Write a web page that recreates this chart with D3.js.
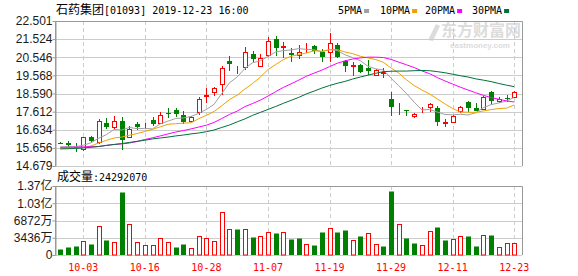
<!DOCTYPE html>
<html>
<head>
<meta charset="utf-8">
<script src="https://cdn.jsdelivr.net/npm/d3@7"></script>
<style>
body{margin:0;background:#fff}
text{font-family:"Liberation Sans","Noto Sans CJK SC",sans-serif}
.mono{font-family:"DejaVu Sans Mono","Noto Sans CJK SC",monospace}
</style>
</head>
<body>
<svg id="chart" width="578" height="276"></svg>
<script>
// trading days shown
const dates = ["09-27","09-30","10-02","10-03","10-04","10-08","10-09","10-10","10-11","10-14",
  "10-15","10-16","10-17","10-18","10-21","10-22","10-23","10-24","10-25","10-28",
  "10-29","10-30","10-31","11-01","11-04","11-05","11-06","11-07","11-08","11-11",
  "11-12","11-13","11-14","11-15","11-18","11-19","11-20","11-21","11-22","11-25",
  "11-26","11-27","11-28","11-29","12-02","12-03","12-04","12-05","12-06","12-09",
  "12-10","12-11","12-12","12-13","12-16","12-17","12-18","12-19","12-20","12-23"];
const xTickLabels = ["10-03","10-16","10-28","11-07","11-19","11-29","12-11","12-23"];

const open = [15.92,15.94,15.72,15.57,16.26,15.95,17.00,16.76,17.11,16.27,16.94,16.87,17.14,16.98,17.54,17.70,17.41,17.12,17.61,18.43,
  18.66,19.10,20.34,19.80,20.00,20.72,20.07,20.64,21.53,21.10,20.76,20.67,21.18,21.15,20.84,20.85,21.21,20.36,20.09,20.13,
  19.95,19.59,19.68,18.28,17.73,17.71,17.35,17.69,17.88,17.81,17.00,17.05,17.66,18.13,17.82,17.73,18.67,18.16,18.33,18.39];
const close = [15.88,15.81,15.70,16.22,16.04,17.11,16.78,17.11,16.08,16.70,16.77,16.89,16.94,17.43,17.46,17.47,17.07,17.31,18.28,18.51,
  18.87,19.99,20.18,19.83,20.81,20.45,20.48,21.40,21.02,21.14,20.67,20.83,21.21,20.90,20.58,21.30,20.58,20.06,20.11,19.77,
  19.78,19.86,19.77,17.88,17.76,17.69,17.48,17.71,18.02,17.07,17.03,17.38,17.85,17.83,17.66,18.42,18.21,18.29,18.30,18.69];
const high = [15.97,16.04,15.92,16.27,16.32,17.19,17.27,17.35,17.32,16.81,17.03,17.02,17.30,17.59,17.79,17.81,17.66,17.38,18.42,18.87,
  18.94,20.05,20.61,20.05,21.08,20.90,20.72,21.65,21.71,21.35,21.03,21.21,21.32,21.21,20.97,21.84,21.30,20.40,20.29,20.16,
  20.40,19.91,19.97,18.69,18.08,17.71,17.55,17.85,18.09,17.92,17.20,17.43,17.92,18.20,18.06,18.46,18.75,18.40,18.51,18.75];
const low = [15.84,15.72,15.45,15.49,15.92,15.89,16.68,16.62,15.54,16.19,16.62,16.71,16.81,16.92,17.27,17.30,16.94,17.07,17.43,18.06,
  18.43,18.51,19.82,19.62,19.84,20.27,20.02,20.54,20.63,20.50,20.30,20.44,20.75,20.72,20.31,20.31,20.49,19.77,19.55,19.68,
  19.59,19.54,19.41,17.40,17.43,17.38,17.28,17.54,17.61,16.84,16.77,17.03,17.52,17.61,17.65,17.68,17.97,18.09,18.15,18.35];

const volume = [12000000,15900000,17900000,27900000,21900000,57800000,29900000,25900000,125500000,61700000,
  25900000,19300000,19300000,33200000,25900000,15900000,21900000,13900000,37200000,33200000,
  27900000,85000000,51100000,51800000,51100000,35900000,37200000,45200000,43800000,45200000,
  31900000,33200000,21300000,19900000,45800000,53100000,45800000,49800000,29900000,37800000,
  43800000,21900000,17900000,127500000,61700000,33900000,23900000,19300000,47800000,55800000,
  29900000,31900000,37800000,37800000,17900000,39800000,39800000,15900000,23900000,24292070];
// 1 = red (up on the day), 0 = green
const volUp = [0,0,0,1,0,1,0,1,0,1,1,1,1,1,1,0,0,1,1,1,1,1,1,0,1,0,1,1,0,1,
  0,0,1,0,0,1,0,0,1,0,1,1,0,0,1,0,0,1,1,0,0,1,1,0,0,1,0,1,1,1];

const ma5 = [15.70,15.72,15.72,15.80,15.93,16.18,16.37,16.65,16.62,16.76,16.69,16.71,16.68,16.95,17.10,17.24,17.27,17.35,17.52,17.73,
  18.01,18.59,19.17,19.48,19.94,20.25,20.35,20.59,20.83,20.90,20.94,21.01,20.97,20.95,20.84,20.96,20.91,20.68,20.53,20.36,
  20.06,19.92,19.86,19.41,19.01,18.59,18.12,17.70,17.73,17.59,17.46,17.44,17.47,17.43,17.55,17.83,17.99,18.08,18.18,18.38];
const ma10 = [15.65,15.65,15.66,15.68,15.76,15.92,16.06,16.19,16.24,16.34,16.43,16.54,16.66,16.79,16.93,16.96,16.99,17.01,17.23,17.41,
  17.62,17.93,18.26,18.50,18.83,19.13,19.47,19.88,20.15,20.42,20.60,20.68,20.78,20.89,20.87,20.95,20.96,20.83,20.74,20.60,
  20.51,20.42,20.27,19.97,19.69,19.33,19.02,18.78,18.57,18.30,18.03,17.78,17.59,17.58,17.57,17.65,17.72,17.78,17.80,17.97];
const ma20 = [15.69,15.69,15.70,15.71,15.72,15.73,15.79,15.84,15.87,15.92,16.00,16.11,16.20,16.30,16.41,16.51,16.59,16.68,16.78,16.88,
  17.03,17.24,17.46,17.64,17.88,18.05,18.23,18.45,18.69,18.92,19.11,19.31,19.52,19.69,19.85,20.04,20.22,20.35,20.45,20.51,
  20.55,20.55,20.53,20.43,20.28,20.14,19.99,19.81,19.66,19.45,19.27,19.10,18.93,18.78,18.63,18.49,18.37,18.28,18.19,18.13];
const ma30 = [15.60,15.61,15.63,15.65,15.69,15.73,15.79,15.84,15.89,15.95,16.01,16.07,16.14,16.19,16.24,16.30,16.35,16.41,16.46,16.53,
  16.62,16.76,16.89,17.06,17.22,17.41,17.57,17.73,17.89,18.06,18.22,18.38,18.57,18.72,18.88,19.02,19.14,19.24,19.37,19.48,
  19.58,19.68,19.77,19.79,19.80,19.80,19.82,19.83,19.82,19.77,19.71,19.63,19.55,19.48,19.38,19.31,19.23,19.13,19.04,18.96];

const priceTicks = [22.501,21.524,20.546,19.568,18.590,17.612,16.634,15.656,14.679];
const volTicks = [0,34360000,68720000,103080000,137440000];
const volTickLabels = ["0","3436万","6872万","1.03亿","1.37亿"];

const maNames = ["5PMA","10PMA","20PMA","30PMA"];
const maColors = ["#a0a0a0","#f2a100","#ff00ff","#00703c"];
const RED = "#ff0000", GREEN = "#008000";

const svg = d3.select("#chart");
const left = 55, right = 522, pTop = 21, pBot = 166, vTop = 186, vBot = 255;
const c = v => Math.round(v) + 0.5;

let x = d3.scaleLinear().domain([0, dates.length - 1]).range([60.2, 514.2]);
let y = d3.scaleLinear().domain([14.679, 22.501]).range([pBot, pTop]);
let yv = d3.scaleLinear().domain([0, 137440000]).range([vBot, vTop]);

// title + legend
svg.append("text").attr("class","mono").attr("x",56).attr("y",14).attr("font-size",10)
  .attr("fill","#000")
  .html('<tspan font-size="12" font-family="Noto Sans CJK SC">石药集团</tspan>[01093] 2019-12-23 16:00');

let lx = [338, 380, 425, 472];
maNames.forEach((n, i) => {
  svg.append("text").attr("class","mono").attr("x",lx[i]).attr("y",14).attr("font-size",10)
    .attr("fill","#000").text(n);
  let w = n.length * 6.02;
  svg.append("rect").attr("x",lx[i]+w+2).attr("y",9).attr("width",5).attr("height",4).attr("fill",maColors[i]);
});

// watermark
let wm = svg.append("g").attr("fill","#dcdcdc");
wm.append("text").attr("x",441).attr("y",36).attr("font-size",16).attr("font-weight","bold")
  .attr("font-family","Noto Sans CJK SC").text("东方财富网");
wm.append("text").attr("x",450).attr("y",48).attr("font-size",8).attr("font-weight","bold").text("eastmoney.com");
wm.append("path").attr("d","M428,40 L436,24 L440,26 L433,41 Z");

// panels: grid
function panel(top, bot, scale, ticks) {
  let g = svg.append("g");
  g.selectAll(".h").data(ticks).enter().append("line")
    .attr("x1", left).attr("x2", right)
    .attr("y1", d => c(scale(d))).attr("y2", d => c(scale(d)))
    .attr("stroke", "#cccccc");
  g.selectAll(".v").data(xTickLabels).enter().append("line")
    .attr("x1", d => c(x(dates.indexOf(d)))).attr("x2", d => c(x(dates.indexOf(d))))
    .attr("y1", top).attr("y2", bot)
    .attr("stroke", "#cccccc").attr("stroke-dasharray", "4,3");
  g.append("path").attr("d", `M${left+0.5},${bot}V${top+0.5}H${right+0.5}V${bot}`)
    .attr("fill", "none").attr("stroke", "#999999");
  return g;
}
panel(pTop, pBot, y, priceTicks);
panel(vTop, vBot, yv, volTicks);

// y axes
let ya = svg.append("g").attr("transform", `translate(${left+0.5},0)`)
  .call(d3.axisLeft(y).tickValues(priceTicks).tickFormat(d3.format(".3f")).tickSize(3).tickSizeOuter(0));
let yva = svg.append("g").attr("transform", `translate(${left+0.5},0)`)
  .call(d3.axisLeft(yv).tickValues(volTicks).tickFormat((d,i) => volTickLabels[i]).tickSize(3).tickSizeOuter(0));
[ya, yva].forEach(a => {
  a.select(".domain").attr("stroke", "#999999");
  a.selectAll(".tick line").attr("stroke", "#999999");
  a.selectAll(".tick text").attr("font-size", 12).attr("fill", "#1a1a1a").attr("x", -3)
    .attr("font-family", '"Liberation Sans","Noto Sans CJK SC",sans-serif');
});

// x labels
svg.selectAll(".xl").data(xTickLabels).enter().append("text").attr("class","mono")
  .attr("x", d => x(dates.indexOf(d))).attr("y", 271).attr("text-anchor","middle")
  .attr("font-size", 10).attr("fill", RED).text(d => d);

// candles
let candles = dates.map((d, i) => ({i, o: open[i], c: close[i], h: high[i], l: low[i]}));
let cg = svg.append("g");
cg.selectAll("line.wick").data(candles).enter().append("line")
  .attr("x1", d => c(x(d.i))).attr("x2", d => c(x(d.i)))
  .attr("y1", d => Math.round(y(d.h))).attr("y2", d => Math.round(y(d.l)))
  .attr("stroke", d => d.c >= d.o ? RED : GREEN);
cg.selectAll("rect.body").data(candles).enter().append("rect")
  .attr("x", d => Math.round(x(d.i)) - 2 + (d.c >= d.o ? 0.5 : 0))
  .attr("y", d => {
    let t = Math.round(y(Math.max(d.o, d.c)));
    return d.c >= d.o ? t + 0.5 : t;
  })
  .attr("width", d => d.c >= d.o ? 4 : 5)
  .attr("height", d => {
    let hgt = Math.round(y(Math.min(d.o, d.c))) - Math.round(y(Math.max(d.o, d.c)));
    return d.c >= d.o ? Math.max(hgt, 0) : Math.max(hgt, 1);
  })
  .attr("fill", d => d.c >= d.o ? "#fff" : GREEN)
  .attr("stroke", d => d.c >= d.o ? RED : "none");

// moving averages
[ma5, ma10, ma20, ma30].forEach((m, k) => {
  svg.append("path").datum(m)
    .attr("d", d3.line().x((v, i) => x(i)).y(v => y(v)))
    .attr("fill", "none").attr("stroke", maColors[k]).attr("stroke-width", 1);
});

// volume
svg.append("text").attr("class","mono").attr("x",57).attr("y",181).attr("font-size",10).attr("fill","#000")
  .html('<tspan font-size="12" font-family="Noto Sans CJK SC">成交量</tspan>:' + volume[volume.length-1]);
svg.selectAll("rect.vol").data(volume).enter().append("rect")
  .attr("x", (v, i) => Math.round(x(i)) - 2 + (volUp[i] ? 0.5 : 0))
  .attr("y", v => Math.round(yv(v)) + 0.5)
  .attr("width", (v, i) => volUp[i] ? 4 : 5)
  .attr("height", v => vBot - Math.round(yv(v)) - 0.5)
  .attr("fill", (v, i) => volUp[i] ? "#fff" : GREEN)
  .attr("stroke", (v, i) => volUp[i] ? RED : "none");
</script>
</body>
</html>
